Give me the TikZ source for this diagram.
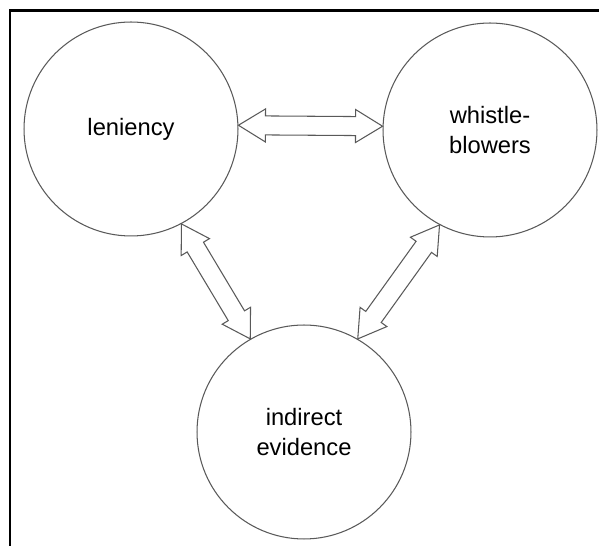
\documentclass[tikz,border=0pt]{standalone}
\usepackage{fontspec}
\setmainfont{Liberation Sans}
\usepackage{tikz}
\usetikzlibrary{calc}

% hollow two-headed arrow between two points
\newcommand{\twoway}[2]{%
  \draw[link] (#1)
    -- ($(#1)!0.54cm!(#2)!0.33cm!90:(#2)$)
    -- ($(#1)!0.54cm!(#2)!0.19cm!90:(#2)$)
    -- ($(#2)!0.54cm!(#1)!0.19cm!-90:(#1)$)
    -- ($(#2)!0.54cm!(#1)!0.33cm!-90:(#1)$)
    -- (#2)
    -- ($(#2)!0.54cm!(#1)!0.33cm!90:(#1)$)
    -- ($(#2)!0.54cm!(#1)!0.19cm!90:(#1)$)
    -- ($(#1)!0.54cm!(#2)!0.19cm!-90:(#2)$)
    -- ($(#1)!0.54cm!(#2)!0.33cm!-90:(#2)$)
    -- cycle;}

\begin{document}
\begin{tikzpicture}[
    x=0.02cm, y=-0.02cm,
    factor/.style={circle, draw=black!65, line width=0.6pt, minimum size=4.28cm, inner sep=0pt, align=center, font=\fontsize{13.5}{17}\selectfont},
    link/.style={draw=black!65, line width=0.6pt, line join=miter},
    frame/.style={draw=black, line width=1.2pt}
]
\useasboundingbox (0,0) rectangle (599,546);

% Border
\draw[frame] (10,546) -- (10,10.5) -- (599,10.5);

% Circles
\node[factor] (lenient) at (131,129) {leniency};
\node[factor] (whistle) at (490,130) {whistle-\\blowers};
\node[factor] (evidence) at (304,432) {indirect\\evidence};

% Arrows
\twoway{lenient.2}{whistle.178}
\twoway{lenient.-62}{evidence.120}
\twoway{whistle.-118}{evidence.60}

\end{tikzpicture}
\end{document}
